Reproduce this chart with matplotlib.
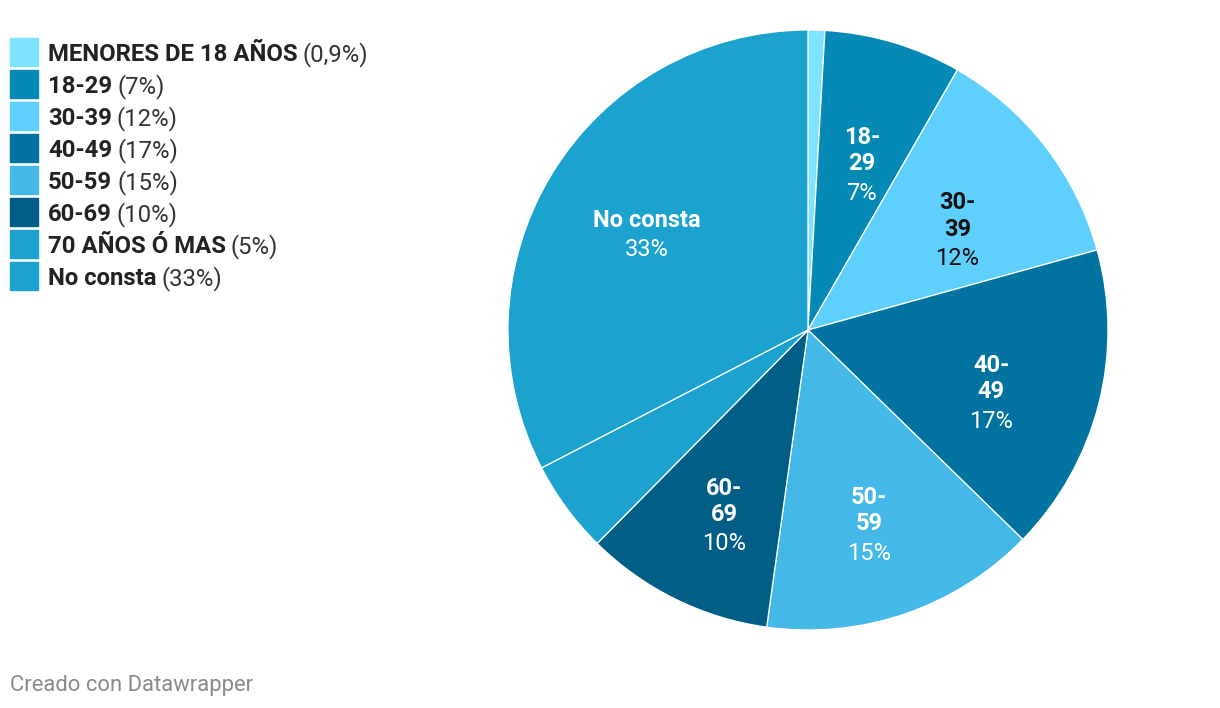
import numpy as np
import matplotlib.pyplot as plt

plt.rcParams['font.family'] = ['Roboto', 'DejaVu Sans']

# data
categories = ['MENORES DE 18 AÑOS', '18-29', '30-39', '40-49', '50-59', '60-69', '70 AÑOS Ó MAS', 'No consta']
values = [0.9, 7.4, 12.4, 16.6, 14.9, 10.2, 5.0, 32.6]
pct_labels = ['0,9%', '7%', '12%', '17%', '15%', '10%', '5%', '33%']
slice_labels = [None, '18-\n29', '30-\n39', '40-\n49', '50-\n59', '60-\n69', None, 'No consta']
colors = ['#7ee3ff', '#0589b5', '#5fd0fd', '#0073a0', '#44b8e6', '#005e87', '#1ba2cf', '#1ba2cf']
label_colors = ['white', 'white', '#111111', 'white', 'white', 'white', 'white', 'white']

W, H = 1220, 708
fig = plt.figure(figsize=(W / 100, H / 100), dpi=100)

# pie: center (808, 330) px, radius 300 px
cx, cy, r = 808, 330, 300
ax = fig.add_axes([(cx - r) / W, (H - cy - r) / H, 2 * r / W, 2 * r / H])
wedges, _ = ax.pie(values, colors=colors, startangle=90, counterclock=False,
                   wedgeprops=dict(edgecolor='white', linewidth=0.9))
ax.set_xlim(-1, 1)
ax.set_ylim(-1, 1)
ax.set_aspect('equal')
ax.axis('off')

line = 28.5 / r  # one text line in data units
for w, lab, pct, col in zip(wedges, slice_labels, pct_labels, label_colors):
    if lab is None:
        continue
    ang = np.deg2rad((w.theta1 + w.theta2) / 2)
    d = 0.63
    x, y = d * np.cos(ang), d * np.sin(ang)
    if '\n' in lab:
        y -= 16 / r
        yb, yp = y + line / 2, y - line
    else:
        y -= 3 / r
        yb, yp = y + line / 2, y - line / 2
    ax.text(x, yb, lab, ha='center', va='center', fontsize=17, fontweight='bold',
            color=col, linespacing=1.18)
    ax.text(x, yp, pct, ha='center', va='center', fontsize=17, color=col)

# legend drawn by hand
renderer = fig.canvas.get_renderer()
y0, step = 52, 32
for i, (cat, pct, col) in enumerate(zip(categories, pct_labels, colors)):
    yc = y0 + i * step
    fig.patches.append(plt.Rectangle((10 / W, (H - yc - 14) / H), 28 / W, 28 / H,
                                     transform=fig.transFigure, color=col))
    t = fig.text(48 / W, (H - yc) / H, cat, fontsize=17.2, fontweight='bold',
                 color='#222222', va='center_baseline')
    bb = t.get_window_extent(renderer)
    fig.text((bb.x1 + 5) / W, (H - yc) / H, '(' + pct + ')', fontsize=17.2,
             color='#333333', va='center_baseline')

fig.text(10 / W, (H - 685) / H, 'Creado con Datawrapper', fontsize=15.8,
         color='#8a8a8a', va='center')

fig.savefig('out.png', dpi=100)
